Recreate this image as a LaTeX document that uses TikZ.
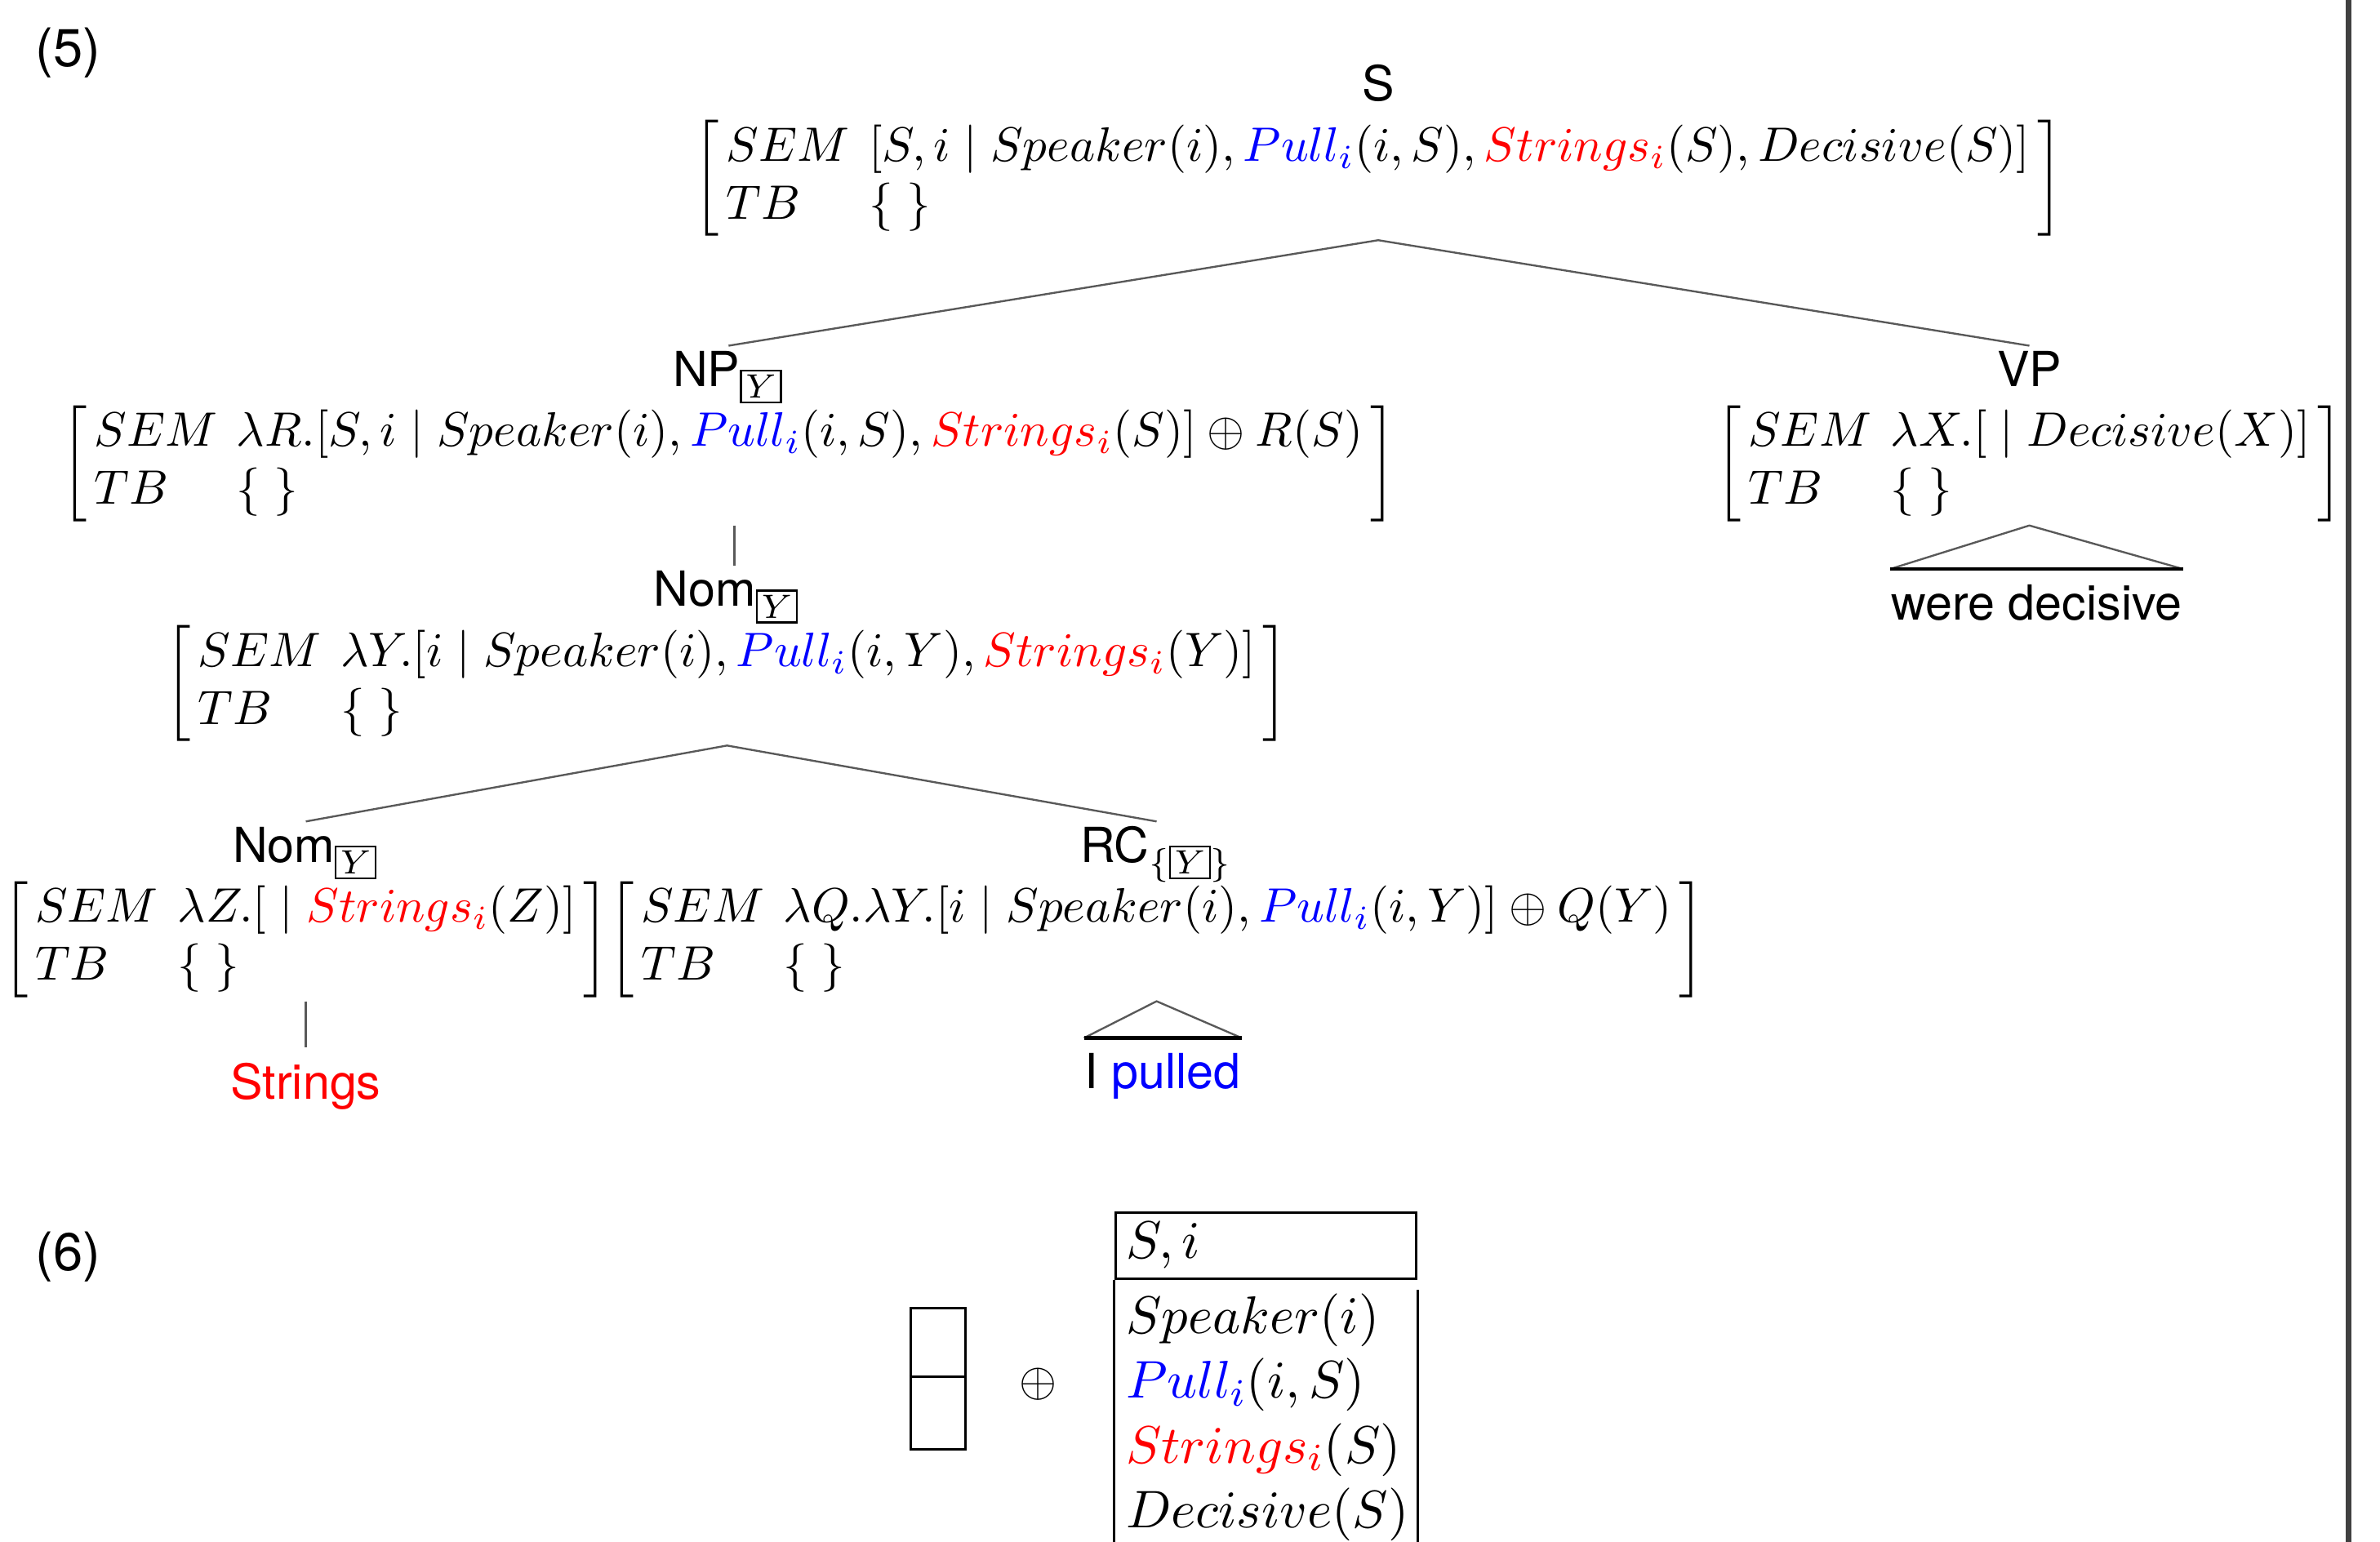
\documentclass[tikz,border=0pt]{standalone}
\usepackage{fontspec}
\setsansfont{TeX Gyre Heros}
\usepackage{xcolor}
\usepackage{tikz}
\usetikzlibrary{positioning}
\newcommand{\Pull}{\textcolor{blue}{Pull_i}}
\newcommand{\Strs}{\textcolor{red}{Strings_i}}
\newcommand{\bx}[1]{{\fboxsep=0.7pt\fbox{$\scriptstyle #1$}}}
\newcommand{\semtb}[1]{$\left[\begin{array}{@{\hspace{1.5pt}}l@{\hspace{4pt}}l@{\hspace{1.5pt}}}
  SEM & #1\\ TB & \{\;\}\end{array}\right]$}

\begin{document}
\begin{tikzpicture}[x=0.314pt,y=-0.314pt,
  cat/.style={font=\sffamily,inner xsep=0pt,inner ysep=1pt,text height=7.2pt,text depth=2pt},
  avm/.style={inner sep=0pt,outer xsep=0pt,outer ysep=0.8pt},
  leaf/.style={font=\sffamily,inner xsep=0pt,inner ysep=3pt},
  exnum/.style={font=\sffamily\fontsize{11pt}{13pt}\selectfont},
  branch/.style={draw=black!65,line width=0.4pt},
  base/.style={draw=black,line width=0.8pt},
  drsbox/.style={draw,line width=0.5pt,inner sep=0pt},
  drsline/.style={draw,line width=0.5pt}
]
  \useasboundingbox (0,0) rectangle (1568,1016);
  \clip (0,0) rectangle (1568,1016);

  \node[exnum] (ex5) at (45,35) {(5)};

  \node[avm] (sAvm) at (908,117.5)
    {\semtb{[S,i \mid Speaker(i), \Pull(i,S), \Strs(S), Decisive(S)]}};
  \node[cat,above=0pt of sAvm] (sLab) {S};

  \node[avm] (npAvm) at (480,305.5)
    {\semtb{\lambda R.[S,i \mid Speaker(i), \Pull(i,S), \Strs(S)] \oplus R(S)}};
  \node[cat,above=0pt of npAvm] (npLab) {NP$_{\bx{Y}}$};

  \node[avm] (vpAvm) at (1337,305.5) {\semtb{\lambda X.[{}\mid Decisive(X)]}};
  \node[cat,above=0pt of vpAvm] (vpLab) {VP};

  \node[avm] (nomAAvm) at (479,450.5)
    {\semtb{\lambda Y.[i \mid Speaker(i), \Pull(i,Y), \Strs(Y)]}};
  \node[cat,above=0pt of nomAAvm] (nomALab) {Nom$_{\bx{Y}}$};

  \node[avm] (nomBAvm) at (201.5,619) {\semtb{\lambda Z.[{}\mid \Strs(Z)]}};
  \node[cat,above=0pt of nomBAvm] (nomBLab) {Nom$_{\bx{Y}}$};

  \node[avm] (rcAvm) at (762,619)
    {\semtb{\lambda Q.\lambda Y.[i \mid Speaker(i), \Pull(i,Y)] \oplus Q(Y)}};
  \node[cat,above=0pt of rcAvm] (rcLab) {RC$_{\{\bx{Y}\}}$};

  \node[leaf,text=red,below=9.6pt of nomBAvm] (strLeaf) {Strings};
  \node[leaf,below=7.6pt of rcAvm,xshift=1.3pt] (pullLeaf) {I \textcolor{blue}{pulled}};
  \node[leaf,below=9pt of vpAvm,xshift=1.5pt] (wereLeaf) {were decisive};

  \draw[branch] (npLab.north) -- (sAvm.south) -- (vpLab.north);
  \draw[branch] ([xshift=1.5pt]nomALab.north |- npAvm.south) -- ([xshift=1.5pt]nomALab.north);
  \draw[branch] (nomBLab.north) -- (nomAAvm.south) -- (rcLab.north);
  \draw[branch] (nomBAvm.south) -- (strLeaf.north);
  \draw[branch] (pullLeaf.north west) -- (rcAvm.south) -- (pullLeaf.north east);
  \draw[base] (pullLeaf.north west) -- (pullLeaf.north east);
  \draw[branch] (wereLeaf.north west) -- (vpAvm.south) -- (wereLeaf.north east);
  \draw[base] (wereLeaf.north west) -- (wereLeaf.north east);

  \node[exnum] (ex6) at (45,828) {(6)};

  \node[drsbox,minimum width=11.3pt,minimum height=29.2pt] (emptyDrs) at (618,908.5) {};
  \draw[drsline] (emptyDrs.west |- 0,907) -- (emptyDrs.east |- 0,907);
  \node (plus) at (684,912) {$\oplus$};

  \node[drsbox,anchor=north,minimum width=62.2pt,minimum height=13.8pt,text width=57.8pt,
        inner xsep=2.2pt,align=left,font=\fontsize{11pt}{13.4pt}\selectfont] (drsU) at (834,798) {$S,i$};
  \node[anchor=north west,inner xsep=2.2pt,inner ysep=2.6pt,text width=57.8pt,align=left,
        font=\fontsize{11pt}{13.4pt}\selectfont] (drsC) at (drsU.south west)
    {$Speaker(i)$\\$\Pull(i,S)$\\$\Strs(S)$\\$Decisive(S)$};
  \draw[drsline] (drsU.south west) -- (drsU.south west |- 0,1040);
  \draw[drsline] ([yshift=-2pt]drsU.south east) -- (drsU.south east |- 0,1040);

  \fill[black!75] (1545.5,0) rectangle (1549.2,1016);
\end{tikzpicture}
\end{document}
